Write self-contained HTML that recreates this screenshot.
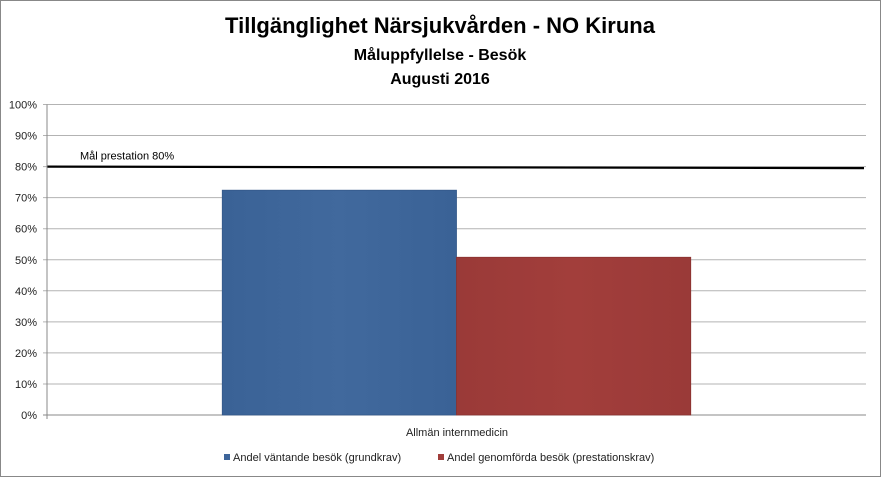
<!DOCTYPE html>
<html><head><meta charset="utf-8"><style>
body{margin:0;background:#fff}
svg{display:block;font-family:"Liberation Sans",sans-serif}
</style></head><body>
<svg id="c" width="881" height="477" viewBox="0 0 881 477">
<defs>
<linearGradient id="gb" x1="0" x2="1" y1="0" y2="0"><stop offset="0" stop-color="#3a6296"/><stop offset="0.5" stop-color="#41699d"/><stop offset="1" stop-color="#3a6296"/></linearGradient>
<linearGradient id="gr" x1="0" x2="1" y1="0" y2="0"><stop offset="0" stop-color="#9a3a38"/><stop offset="0.5" stop-color="#a23e3b"/><stop offset="1" stop-color="#9a3a38"/></linearGradient>
</defs>
<rect x="0.5" y="0.5" width="880" height="476" fill="#fff" stroke="#888"/>
<text x="440" y="33" text-anchor="middle" font-size="22" font-weight="bold">Tillgänglighet Närsjukvården - NO Kiruna</text>
<text x="440" y="60" text-anchor="middle" font-size="16" font-weight="bold">Måluppfyllelse - Besök</text>
<text x="440" y="84" text-anchor="middle" font-size="16" font-weight="bold">Augusti 2016</text>
<g id="grid"></g><g id="bars"></g><g id="axes"></g>
<text x="457" y="436" text-anchor="middle" font-size="11" fill="#222">Allmän internmedicin</text>
<rect x="224" y="454" width="6" height="6" fill="#3d659a"/>
<text x="233" y="461" font-size="11" fill="#222">Andel väntande besök (grundkrav)</text>
<rect x="438" y="454" width="6" height="6" fill="#a03d3a"/>
<text x="447" y="461" font-size="11" fill="#222">Andel genomförda besök (prestationskrav)</text>
</svg>
<script>
const categories=["Allmän internmedicin"];
const seriesNames=["Andel väntande besök (grundkrav)","Andel genomförda besök (prestationskrav)"];
const seriesValues=[72.4,50.8];
const targetValue=80;
const tickValues=[0,10,20,30,40,50,60,70,80,90,100];
const tickLabels=["0%","10%","20%","30%","40%","50%","60%","70%","80%","90%","100%"];
const NS="http://www.w3.org/2000/svg";
const x0=47,x1=866,y0=415,y1=104.5;
const yS=v=>y0-(v/100)*(y0-y1);
function mk(t,a,p){const e=document.createElementNS(NS,t);for(const k in a)e.setAttribute(k,a[k]);p.appendChild(e);return e;}
const grid=document.getElementById('grid'),bars=document.getElementById('bars'),axes=document.getElementById('axes');
tickValues.forEach((v,i)=>{
 const y=yS(v);
 const l=mk('line',{x1:x0-4,x2:x1,y1:y,y2:y,stroke:v===0?'#888':'#b3b3b3','stroke-width':1},grid);
 
 
 const t=mk('text',{x:37,y:y+4,'text-anchor':'end','font-size':11,fill:'#222'},axes);
 t.textContent=tickLabels[i];
 
 
});
const ax=mk('line',{x1:x0,x2:x0,y1:y1,y2:y0+4,stroke:'#888'},axes);


const groupW=x1-x0, barW=groupW*0.286, start=x0+(groupW-barW*seriesValues.length)/2;
const fills=['url(#gb)','url(#gr)'];
seriesValues.forEach((v,i)=>{
 const r=mk('rect',{x:start+i*barW,y:yS(v),width:barW,height:y0-yS(v),fill:fills[i],stroke:i?'#8a3230':'#34598a','stroke-width':0.8},bars);
 
 
});
const ty=yS(targetValue);
const tl=mk('line',{x1:x0,x2:864,y1:ty,y2:ty+1.5,stroke:'#000','stroke-width':2.2},bars);


const tt=mk('text',{x:80,y:ty-7,'font-size':11,fill:'#000'},bars);
tt.textContent='Mål prestation  '+targetValue+'%';


</script>
</body></html>
